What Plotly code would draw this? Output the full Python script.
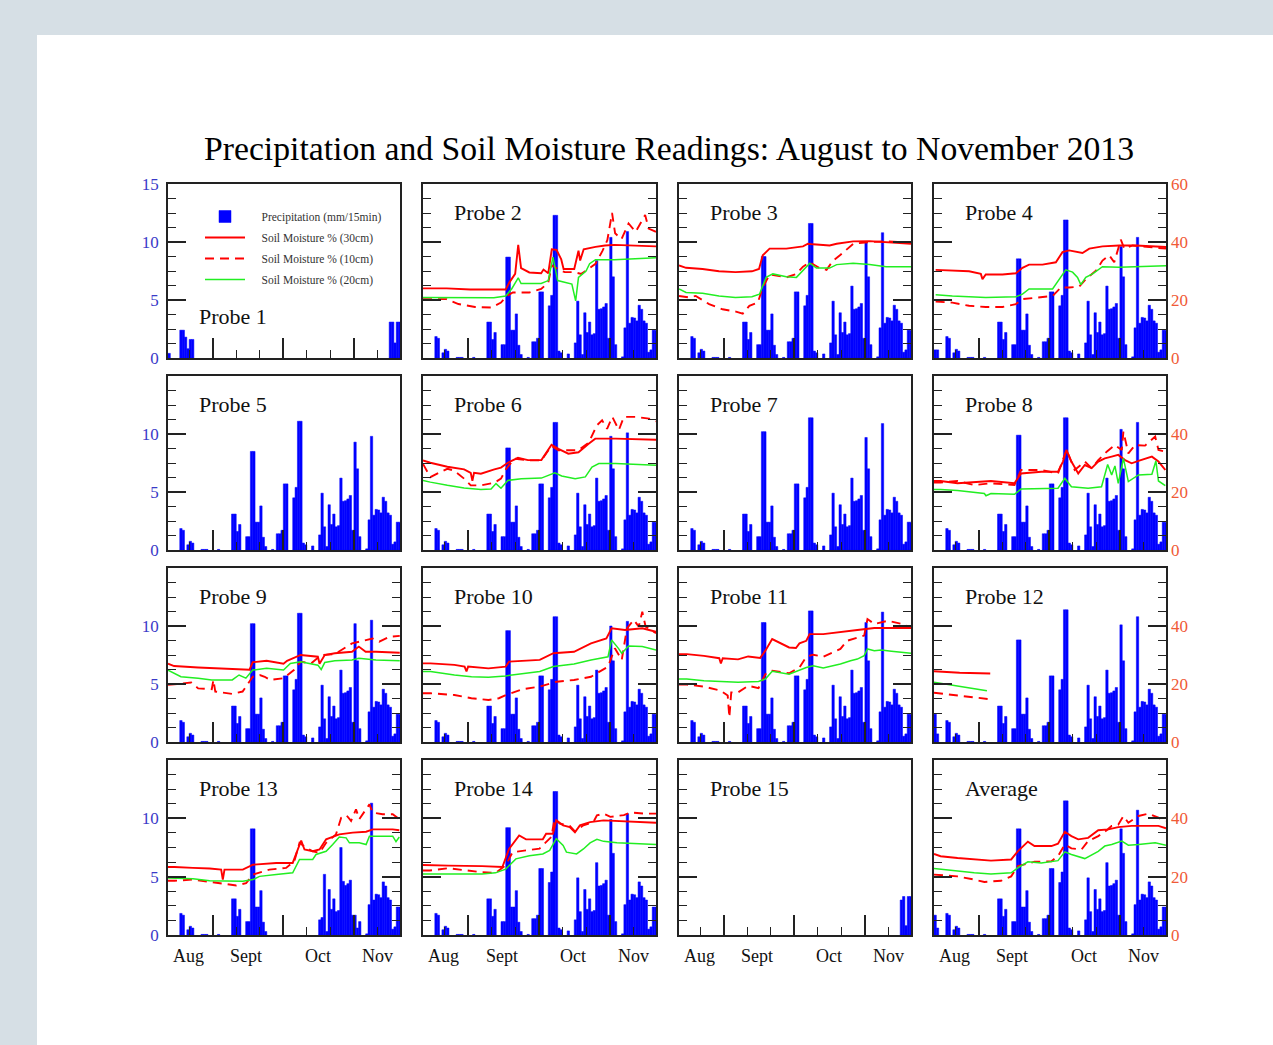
import plotly.graph_objects as go

W, H = 1273, 1045
DAY0 = 211          # day-of-year of the first plotted day (30 July 2013)
N_DAYS = 99
X_RANGE = [211, 309.6]

# ---------------- tick definitions ----------------
MONTHS = ["Aug", "Sept", "Oct", "Nov"]
MONTH_POS = [219.5, 244.3, 274.6, 300.0]
MAJOR_DAYS = [230, 260, 290]
MINOR_DAYS = [220, 240, 250, 270, 280, 300]

# ---------------- precipitation (mm / 15 min), day index 0..98 ----------------
PRECIP = [0, 0, 0, 0, 0, 1.85, 1.7, 0, 0.45, 0.75,
          0.6, 0, 0, 0, 0.05, 0.05, 0.05, 0, 0, 0,
          0, 0.05, 0, 0, 0, 0, 0, 3.1, 3.1, 1.6,
          2.2, 0, 0, 1.15, 1.15, 8.5, 8.5, 2.4, 2.4, 3.8,
          1.1, 0.3, 0, 0, 0.05, 0, 1.4, 1.4, 1.7, 5.7,
          5.7, 0, 0, 4.5, 5.4, 11.1, 11.1, 0.6, 0.45, 0,
          0, 0.35, 0, 0, 1.3, 4.9, 2.0, 0.3, 3.9, 2.2,
          3.1, 2.0, 2.1, 6.2, 4.2, 4.25, 4.4, 4.7, 1.7, 9.3,
          7.0, 1.15, 0, 0, 0.1, 2.6, 9.8, 3.0, 3.5, 3.45,
          3.2, 4.55, 4.2, 3.2, 3.0, 0.5, 0.7, 2.4, 2.4]

# per-probe readings that differ from the common record
PRECIP_EDIT = {
    "Probe 2": {35: 8.7, 36: 8.7, 55: 12.3, 56: 12.3, 73: 8.4, 79: 10.4, 86: 10.9},
    "Probe 3": {35: 8.75, 36: 8.75, 55: 11.6, 56: 11.6, 79: 10.0, 86: 10.8},
    "Probe 4": {0: 0.7, 1: 0.7, 35: 8.55, 36: 8.55, 55: 11.9, 56: 11.9, 79: 9.6, 86: 10.4},
    "Probe 6": {35: 8.8, 36: 8.8, 55: 11.0, 56: 11.0, 79: 9.8, 86: 10.1},
    "Probe 7": {35: 10.2, 36: 10.2, 55: 11.4, 56: 11.4, 79: 9.7, 86: 10.9},
    "Probe 8": {35: 9.9, 36: 9.9, 55: 11.4, 56: 11.4, 79: 10.4, 86: 11.0},
    "Probe 9": {35: 10.2, 36: 10.2, 55: 11.1, 56: 11.1, 79: 10.2, 86: 10.5},
    "Probe 10": {35: 9.6, 36: 9.6, 55: 10.8, 56: 10.8, 79: 10.0, 86: 10.4},
    "Probe 11": {35: 10.3, 36: 10.3, 55: 11.3, 56: 11.3, 79: 10.3, 86: 11.2},
    "Probe 12": {0: 2.4, 1: 0.7, 35: 8.8, 36: 8.8, 55: 11.4, 56: 11.4, 79: 10.1, 86: 10.8},
    "Probe 13": {35: 9.1, 36: 9.1, 65: 1.5, 66: 5.2, 73: 7.5, 74: 4.6, 79: 1.7, 80: 0.6, 86: 11.3},
    "Probe 14": {35: 9.2, 36: 9.2, 55: 12.3, 56: 12.3, 79: 9.9, 86: 10.4},
    "Average": {0: 1.7, 1: 0.6, 35: 9.1, 36: 9.1, 55: 11.5, 56: 11.5, 79: 9.1, 86: 10.7},
}
P13_GAP = (42, 64)     # Probe 13 gauge has no data for these day indices
P1_PRECIP = {0: 0.4, 5: 2.4, 6: 2.4, 7: 1.8, 8: 0.8, 9: 1.6, 10: 1.6,
             94: 3.1, 95: 3.1, 96: 1.3, 97: 3.1, 98: 3.1}
P15_PRECIP = {94: 3.0, 95: 3.3, 96: 0.8, 97: 3.3, 98: 3.3}

# ---------------- soil moisture (%): (day index, value) ----------------
P2_30 = [(0, 24), (10, 24), (20, 23.6), (30, 23.5), (35, 23.6), (36.5, 26), (39, 29), (40.3, 39), (41.5, 31),
         (45, 29.5), (50, 29.2), (51, 30.5), (53, 29.2), (54.5, 37.5), (56.5, 37.3), (58.5, 34), (59.5, 30.7),
         (64, 30.7), (65.8, 37), (66.5, 33.6), (68, 37.5), (73, 38.3), (77, 38.8), (81, 39), (90, 38.8), (98.6, 38.5)]
P2_10 = [(0, 20.3), (10, 20.3), (15, 18.6), (22, 17.6), (29, 17.4), (33, 19.1), (35.5, 21.4), (38, 22.6), (45, 22.6),
         (50, 23.8), (53, 26), (54.5, 32), (57, 30.7), (60, 29.6), (64, 29.6), (67, 29), (70, 30.7), (73, 32.5),
         (76, 37), (78, 40.6), (80, 50), (81.3, 43), (84, 41), (87, 46.4), (90, 43.5), (94, 49.3), (95.5, 44.6), (98.6, 43.5)]
P2_20 = [(0, 20.9), (10, 20.9), (20, 20.8), (30, 20.8), (35, 21.4), (37.5, 23.8), (40.3, 27.6), (41.5, 25.7), (50, 25.7),
         (53, 26.7), (55, 34.8), (57, 26.7), (63, 25.5), (64.6, 19.7), (65.8, 27.8), (69, 30), (70.5, 32.5), (73, 33.9),
         (81, 33.9), (98.6, 34.6)]

P3_30 = [(0, 31.9), (3, 31.1), (10, 30.7), (17, 29.9), (24, 29.6), (31, 29.9), (34, 30.7), (35.6, 35.4), (38.5, 37.7),
         (45.6, 37.7), (52.7, 38.5), (54.8, 39.4), (57, 39.2), (64, 38.8), (67, 39.4), (74, 40.2), (81, 40.3), (88, 40), (98.6, 39.4)]
P3_10 = [(0, 21.4), (4.3, 20.9), (7.1, 21.4), (12.8, 18.6), (18.5, 16.8), (24.2, 16), (27.1, 15.3), (29.9, 18), (33.5, 19.1),
         (35.6, 24.3), (38.5, 28.8), (45.6, 27.8), (49.9, 29), (52.7, 31.5), (55.6, 33), (59.8, 31), (62.7, 30.4), (65.5, 33.6),
         (68.4, 35.4), (70.5, 36.9), (74.1, 39.4), (81, 40), (88, 40.2), (98.6, 39.8)]
P3_20 = [(0, 23.8), (3, 22.6), (10, 22.3), (17, 21.4), (24, 20.9), (31, 21.1), (34.2, 22), (37, 27.8), (39.9, 29), (45.6, 28),
         (49.9, 27.8), (52.7, 30.4), (55.6, 32.7), (58.4, 31), (64, 31), (67, 32.2), (74, 32.7), (81, 32.2), (88, 31.5), (98.6, 31.5)]

P4_30 = [(0.7, 30.4), (7.8, 30.1), (14.9, 29.9), (19.9, 29), (20.6, 27.2), (22, 28.8), (29.1, 28.8), (34.8, 29.2), (37.6, 31.1),
         (40.4, 32.2), (46.1, 32.2), (51.8, 33), (54.6, 36.5), (57.4, 37.1), (63.1, 36.2), (66, 37.7), (71.6, 38.5), (78.7, 38.8),
         (85.8, 38.8), (98.6, 38.3)]
P4_10 = [(0.7, 19.5), (7.8, 19.1), (14.9, 18), (22, 17.6), (29.1, 17.6), (34.8, 18.6), (37.6, 20.3), (43.3, 20.9), (50.4, 21.4),
         (53.9, 24.3), (57.4, 24.3), (61.7, 24.6), (64.5, 27.2), (68.8, 30.1), (71.6, 33.6), (74.5, 35.4), (76.6, 33), (79.4, 40.8),
         (80.9, 37.7), (84.4, 38.8), (98.6, 37.7)]
P4_20 = [(0.7, 21.8), (7.8, 21.4), (22, 20.9), (34.8, 21.1), (37.6, 22), (40.4, 23.8), (50.4, 23.8), (53.9, 27.8), (56, 30.4),
         (58.9, 29.6), (61, 27.8), (62.4, 25.3), (64.5, 27.8), (67.4, 29), (71.6, 31.5), (78.7, 31.3), (85.8, 31.5), (98.6, 31.8)]

P6_30 = [(0, 30.9), (3.1, 30.1), (10.3, 28.7), (17.4, 27.8), (20.2, 26.6), (20.9, 23.9), (21.6, 26.6), (24.5, 26.3), (30.2, 27.8),
         (33, 28.4), (35.9, 30.1), (40.2, 31.8), (44.4, 31), (50.1, 31), (54.4, 36.3), (57.3, 34.9), (61.5, 33.2), (65.8, 33.7),
         (70.1, 36.6), (72.9, 38.4), (81.5, 38.4), (98.6, 38)]
P6_10 = [(0, 29.7), (3.1, 25.1), (7.4, 26.9), (10.3, 28), (13.1, 27.4), (17.4, 24.6), (20.2, 22.3), (24.5, 22.3), (30.2, 23.2),
         (33, 24.6), (35.2, 28), (38.7, 31.5), (44.4, 30.9), (50.1, 30.9), (54.4, 35.9), (57.3, 34.4), (61.5, 34.4), (65.8, 34.4),
         (70.1, 37), (73.6, 43), (75.8, 44.7), (77.9, 41.8), (80.1, 45.9), (82.9, 41.4), (85, 45.9), (90, 45.9), (95.7, 45.3), (98.6, 44.4)]
P6_20 = [(0, 24), (3.1, 23.4), (10.3, 22.3), (17.4, 21.4), (24.5, 20.9), (28.8, 21), (30.9, 22.9), (33, 21.3), (35.9, 24),
         (41.6, 24.6), (50.1, 24.8), (55.8, 26.6), (58.7, 25.5), (64.4, 24.6), (68.7, 25.2), (71.5, 28.6), (74.4, 29.8),
         (81.5, 29.8), (98.6, 29.2)]

P8_30 = [(0, 23.8), (2.8, 23.8), (10, 23), (17.1, 23.3), (24.2, 23.8), (34.2, 23), (37, 26.4), (45.6, 27), (52.7, 27), (54.8, 30.5),
         (56.3, 34.5), (58.4, 30.5), (61.3, 26.4), (64.1, 29.3), (67, 28.2), (69.8, 30.5), (72.6, 31.6), (75.5, 32.2), (78.3, 32.8),
         (81.2, 31), (84, 29.9), (86.9, 30.7), (92.6, 32.2), (95.4, 30.5), (98.3, 27.6)]
P8_10 = [(0, 23.3), (2.8, 23.3), (10, 23.8), (17.1, 22.4), (24.2, 23), (34.2, 22.4), (37, 27.6), (45.6, 27.6), (52.7, 26.4),
         (56.3, 34.5), (59.8, 27.6), (64.1, 30.5), (67, 28.2), (69.8, 31), (73.4, 33.9), (76.9, 36.2), (79.8, 34.5), (80.5, 40.8),
         (82.6, 33.3), (85.5, 36.2), (89.7, 36), (94, 39.1), (95.4, 34.5), (98.3, 33.9)]
P8_20 = [(0, 20.9), (2.8, 20.9), (10, 20.5), (21.4, 19.5), (22.1, 18.7), (24.2, 19.5), (34.2, 19.2), (37, 21), (52.7, 21.3),
         (55.6, 24.7), (58.4, 21.8), (65.5, 21.3), (71.2, 21.8), (73.8, 29.5), (75.5, 25.9), (76.9, 29), (78.3, 23), (80.5, 31.6),
         (82.6, 23.6), (86.9, 25.9), (92.6, 26.1), (94.3, 30.7), (95.4, 23.8), (98.3, 22.2)]

P9_30 = [(0, 27), (2.6, 26.2), (12.8, 25.7), (27.3, 25.3), (34.6, 24.9), (36, 27.5), (41.9, 28), (49.1, 27), (50.6, 28), (56.4, 30),
         (63.7, 29.4), (64.4, 27), (66.6, 30), (70.9, 30.6), (78.2, 31.1), (81.1, 32.9), (84, 31.1), (88.4, 31.1), (98.5, 30.8)]
P9_10 = [(0, 19.7), (5.5, 20.2), (9.9, 20.5), (12.8, 18.5), (18.6, 18.2), (19.3, 21.4), (20.1, 17.4), (27.3, 16.6), (31.7, 17.4),
         (36, 22.5), (39, 23.1), (41.1, 22.5), (43.3, 21.4), (49.1, 22), (53.5, 24.8), (56.4, 27.7), (60.8, 27.1), (65.1, 30),
         (70.9, 30.3), (78.2, 34), (82.6, 34.9), (86.9, 35.7), (89.8, 34.6), (94.2, 36.3), (98.5, 36.6)]
P9_20 = [(0, 24.8), (2.6, 23.7), (5.5, 22.5), (12.8, 22), (18.6, 21.4), (27.3, 21.4), (30.2, 23.1), (33.1, 22), (36, 24.8),
         (41.9, 25.4), (49.1, 24.8), (52, 27.1), (56.4, 27.7), (63.7, 26.5), (65.1, 25), (66.6, 27.4), (70.9, 28), (78.2, 28.3),
         (81.1, 28.9), (88.4, 28.3), (98.5, 28)]

P10_30 = [(0, 27.1), (3.2, 27.1), (13.3, 26.6), (17.6, 26), (18.4, 24.3), (19.1, 26), (27.7, 25.4), (35, 26), (36.4, 27.7),
          (49.4, 28.3), (55.2, 30.6), (63.9, 31.1), (71.1, 34), (77.6, 35.7), (79.8, 39.2), (85.5, 38.6), (92.8, 39.2), (98.6, 38)]
P10_10 = [(0, 16.8), (3.2, 16.8), (13.3, 16.2), (20.5, 15.1), (27.7, 14.5), (32.1, 15.1), (35, 16.2), (42.2, 18.2), (49.4, 19.1),
          (56.6, 20.8), (63.9, 21.4), (71.1, 22.5), (78.3, 26), (81.2, 32.3), (84.1, 28.3), (86.3, 39.2), (89.2, 42.1),
          (91.3, 39.8), (92.8, 44.9), (94.2, 39.8), (98.6, 37.5)]
P10_20 = [(0, 24.3), (3.2, 24.3), (13.3, 23.1), (20.5, 22.5), (27.7, 22.3), (35, 22.8), (49.4, 24.3), (55.2, 26), (63.9, 26.9),
          (71.1, 28.3), (78.3, 29.4), (79.8, 35.2), (82.7, 32.3), (84.1, 30.6), (87, 33.1), (92.8, 32.9), (98.6, 31.7)]

P11_30 = [(0, 30.3), (3.3, 30.3), (10.6, 29.7), (17.1, 28.9), (17.8, 27.1), (18.6, 28.9), (25.1, 28.5), (29.4, 29.5), (34.5, 29),
          (36.7, 31.5), (39.6, 35.5), (42.5, 34.4), (46.8, 32.6), (49.7, 32.4), (51.2, 34), (54.1, 34.9), (55.5, 37.2),
          (61.3, 37.2), (68.6, 37.8), (75.8, 38.6), (83, 39.3), (98.6, 39.3)]
P11_10 = [(0, 19.8), (3.3, 19.8), (10.6, 19.1), (17.8, 17.7), (20.7, 16), (21.4, 8.5), (22.2, 17.1), (25.1, 17.1), (29.4, 19.4),
          (33.8, 18.6), (36.7, 23.4), (39.6, 24.6), (46.8, 23.7), (51.2, 25.7), (54.1, 29.4), (57, 30.1), (61.3, 29.4),
          (68.6, 32.1), (71.4, 34.9), (75.8, 36.1), (78.7, 36.7), (80.1, 42.4), (83, 40.7), (88.8, 41.8), (94.6, 40.7), (98.6, 39.5)]
P11_20 = [(0, 21.7), (3.3, 21.7), (10.6, 21.1), (17.8, 20.9), (25.1, 20.6), (33.8, 20.9), (36.7, 21.7), (39.6, 24.4), (46.8, 23.4),
          (54.1, 25.7), (57, 26.3), (61.3, 25.5), (68.6, 26.9), (72.9, 28), (75.8, 28.6), (78.7, 29.8), (80.1, 32.1), (83, 31.5),
          (86, 31.7), (90.3, 31.3), (98.6, 30.6)]

P12_30 = [(0, 24.4), (10.9, 23.9), (23.9, 23.6)]
P12_10 = [(0, 17), (10.9, 15.9), (23.2, 14.8)]
P12_20 = [(0, 20.6), (10.9, 19.1), (22.5, 17.7)]

P13_30 = [(0, 23.3), (2.8, 23.3), (10.6, 23), (17.7, 22.8), (22.6, 22.4), (23.3, 19), (24, 22.4), (31.8, 22.4), (36.1, 24.1),
          (46, 24.7), (53, 24.7), (55.2, 29.3), (56.6, 32.4), (58, 29.3), (61.5, 28.7), (64.4, 29.3), (67.2, 32.8), (72.8, 34.5),
          (78.5, 35.1), (84.2, 35.4), (87, 36.2), (95.5, 36.2), (98.3, 35.9)]
P13_10 = [(0, 18.6), (2.8, 18.6), (10.6, 19), (17.7, 18.2), (23.3, 17.8), (29, 17), (33.2, 17.8), (36.1, 20.7), (43.1, 22.4),
          (50.2, 23), (53.7, 25.3), (55.9, 31.6), (58.7, 29.9), (61.5, 28.7), (64.4, 28.2), (67.2, 31.6), (71.4, 34.5), (73.6, 40.2),
          (75.8, 41.1), (77.8, 39.1), (79.9, 43.1), (81.3, 39.7), (85.6, 44.8), (87, 42), (91.2, 41.4), (95.5, 41.4), (98.3, 39.7)]
P13_20 = [(0, 19.5), (2.8, 19.5), (10.6, 19.3), (17.7, 18.6), (24.8, 18.4), (31.8, 18.4), (36.1, 19), (38.9, 20.1), (46, 20.7),
          (53, 21.3), (55.9, 25.9), (61.5, 25.9), (62.9, 27.6), (67.2, 28.7), (70, 31), (72.8, 33.6), (75.7, 33.3), (77.1, 31.6),
          (81.3, 31.6), (84.2, 31), (85.6, 33.9), (95.5, 33.9), (96.9, 32), (98.3, 33.6)]

P14_30 = [(0, 24), (2.9, 24), (10.7, 23.8), (25, 23.6), (33.6, 23.3), (36.4, 29.5), (40.7, 34.1), (43.6, 32.8), (50.7, 32.8),
          (52.1, 34.7), (55, 34.7), (56.4, 39.3), (59.3, 37.6), (62.1, 37), (64.3, 35.2), (66.4, 37.6), (70.7, 38.7), (76.4, 39.3),
          (82.1, 39.1), (87.9, 38.7), (98.6, 38.5)]
P14_10 = [(0, 22.1), (2.9, 22.1), (10.7, 22.9), (17.9, 22.1), (25, 21.5), (30.7, 21.3), (35, 23.9), (37.9, 28.4), (43.6, 29),
          (49.3, 29.6), (51.4, 31.3), (54.3, 33.6), (55.7, 39.9), (57.9, 38.2), (62.1, 37.4), (64.3, 35.5), (67.9, 37.6),
          (72.1, 38.7), (73.6, 41), (76.4, 41.6), (79.3, 40.5), (85, 41.1), (87.9, 42), (93.6, 41.6), (98.6, 41.6)]
P14_20 = [(0, 20.9), (4.3, 20.9), (10.7, 20.9), (25, 20.9), (30.7, 21.3), (35, 22.6), (39.3, 26.1), (45, 27.2), (50.7, 27.8),
          (53.6, 29), (56.4, 33), (59.3, 30.7), (60.7, 28.4), (65, 27.8), (67.9, 29.5), (70.7, 31.6), (73.6, 32.8), (76.4, 32.1),
          (82.1, 31.6), (98.6, 31)]

AVG_30 = [(0, 27.8), (2.8, 27), (10, 26.4), (17.1, 25.9), (24.2, 25.5), (32.8, 25.9), (35.6, 28.7), (39.9, 32), (42.7, 30.5),
          (49.9, 30.5), (52.7, 31.3), (55.6, 35.4), (58.4, 33.9), (61.3, 32.8), (65.5, 33.3), (69.8, 35.9), (74.1, 36.2),
          (78.3, 37), (84, 37.4), (95.4, 37.4), (98.6, 36.6)]
AVG_10 = [(0, 20.7), (10, 20.1), (17.1, 19), (21.4, 18.2), (28.5, 18.6), (32.8, 20.1), (35.6, 23.6), (42.7, 25.1), (49.9, 25.3),
          (52.7, 27), (55.6, 31), (58.4, 29.7), (62.7, 29.3), (65.5, 32.2), (69.8, 33.9), (73.4, 35.9), (75.5, 37.4), (78.3, 37.8),
          (80.5, 40.8), (82.6, 38.5), (86.9, 40.8), (91.2, 41.6), (95.4, 40.2), (98.6, 39.1)]
AVG_20 = [(0, 22.8), (10, 21.8), (17.1, 21.3), (24.2, 20.9), (32.8, 21.3), (35.6, 23), (39.9, 25.1), (45.6, 24.7), (52.7, 25.5),
          (55.6, 28.5), (58.4, 27.6), (64.1, 26.2), (67, 27.6), (69.8, 28.7), (72.6, 30.5), (75.5, 31), (79.8, 32.2), (82.6, 30.8),
          (86.9, 31), (94, 31.6), (98.6, 30.8)]

LINES = {
    "Probe 2": (P2_30, P2_10, P2_20), "Probe 3": (P3_30, P3_10, P3_20), "Probe 4": (P4_30, P4_10, P4_20),
    "Probe 6": (P6_30, P6_10, P6_20), "Probe 8": (P8_30, P8_10, P8_20), "Probe 9": (P9_30, P9_10, P9_20),
    "Probe 10": (P10_30, P10_10, P10_20), "Probe 11": (P11_30, P11_10, P11_20), "Probe 12": (P12_30, P12_10, P12_20),
    "Probe 13": (P13_30, P13_10, P13_20), "Probe 14": (P14_30, P14_10, P14_20), "Average": (AVG_30, AVG_10, AVG_20),
}

PANELS = ["Probe 1", "Probe 2", "Probe 3", "Probe 4",
          "Probe 5", "Probe 6", "Probe 7", "Probe 8",
          "Probe 9", "Probe 10", "Probe 11", "Probe 12",
          "Probe 13", "Probe 14", "Probe 15", "Average"]

SERIES = [("Soil Moisture % (30cm)", "#ff0000", "solid", 1.9),
          ("Soil Moisture % (10cm)", "#ff0000", "9px,6px", 1.9),
          ("Soil Moisture % (20cm)", "#22ee22", "solid", 1.5)]
BAR_NAME = "Precipitation (mm/15min)"
LEGEND_PAD = "\u00a0\u00a0\u00a0\u00a0"   # gap between legend symbol and its text

# ---------------- layout geometry (pixels) ----------------
COL_X = [(168, 400), (423, 656), (679, 911), (934, 1166)]
ROW_Y = [(184, 358), (376, 550), (568, 742), (760, 935)]

SERIF = "Liberation Serif, Times New Roman, serif"
FRAME = "#222222"
LEFT_LABEL = "#3a3ac8"
RIGHT_LABEL = "#f05a36"


def precip_for(name):
    if name == "Probe 1":
        vals = [P1_PRECIP.get(i, 0) for i in range(N_DAYS)]
    elif name == "Probe 15":
        vals = [P15_PRECIP.get(i, 0) for i in range(N_DAYS)]
    else:
        vals = list(PRECIP)
        if name == "Probe 13":
            for i in range(*P13_GAP):
                vals[i] = 0
        for i, v in PRECIP_EDIT.get(name, {}).items():
            vals[i] = v
    # dry days draw no bar at all
    return [v if v > 0 else None for v in vals]


def ax_id(letter, n):
    return letter if n == 1 else f"{letter}{n}"


fig = go.Figure()
layout = dict(
    width=W, height=H, autosize=False,
    margin=dict(l=0, r=0, t=0, b=0, pad=0),
    paper_bgcolor="#d6dfe5", plot_bgcolor="white",
    showlegend=True,
    legend=dict(x=200 / W, y=1 - 202 / H, xanchor="left", yanchor="top",
                bgcolor="rgba(0,0,0,0)", borderwidth=0,
                font=dict(family=SERIF, size=11.5, color="#333333"),
                itemwidth=40, tracegroupgap=2, traceorder="grouped"),
    shapes=[dict(type="rect", xref="paper", yref="paper", x0=37 / W, x1=1, y0=0, y1=1 - 35 / H,
                 fillcolor="white", line=dict(width=0), layer="below")],
    annotations=[dict(text="Precipitation and Soil Moisture Readings: August to November 2013",
                      xref="paper", yref="paper", x=669 / W, y=1 - 148 / H, xanchor="center", yanchor="middle",
                      showarrow=False, font=dict(family=SERIF, size=33.7, color="black"))],
)

days = [DAY0 + i for i in range(N_DAYS)]
legend_done = set()

for k, name in enumerate(PANELS, start=1):
    r, c = divmod(k - 1, 4)
    x0, x1 = COL_X[c]
    y0, y1 = ROW_Y[r]
    xd = [x0 / W, x1 / W]
    yd = [1 - y1 / H, 1 - y0 / H]
    xa, ya = ax_id("x", k), ax_id("y", k)
    ya2 = ax_id("y", 16 + k)

    fig.add_trace(go.Bar(x=days, y=precip_for(name), xaxis=xa, yaxis=ya, width=1, offset=0,
                         marker=dict(color="#0000ff", line=dict(width=0.5, color="#0000ff")),
                         name=LEGEND_PAD + BAR_NAME, legendgroup="p", legendrank=1,
                         showlegend=(k == 1), hoverinfo="skip"))
    if name in LINES:
        for j, pts in enumerate(LINES[name]):
            label, color, dash, lw = SERIES[j]
            fig.add_trace(go.Scatter(x=[DAY0 + d for d, _ in pts], y=[v for _, v in pts],
                                     xaxis=xa, yaxis=ya2, mode="lines",
                                     line=dict(color=color, width=lw, dash=dash),
                                     name=LEGEND_PAD + label, legendgroup=f"s{j}", legendrank=2 + j,
                                     showlegend=(label not in legend_done), hoverinfo="skip"))
            legend_done.add(label)

    top_row = (r == 0)
    sfx = "" if k == 1 else str(k)
    sfx2 = str(16 + k)
    layout["xaxis" + sfx] = dict(
        domain=xd, anchor=ya, range=X_RANGE, showline=True, mirror=True, linecolor=FRAME, linewidth=1.6,
        ticks="inside", tickmode="array", tickvals=MAJOR_DAYS, ticklen=20, tickwidth=1.6, tickcolor=FRAME,
        minor=dict(tickmode="array", tickvals=MINOR_DAYS, ticks="inside", ticklen=8, tickwidth=1.4, tickcolor=FRAME),
        showticklabels=False, showgrid=False, zeroline=False, fixedrange=True, automargin=False)
    layout["yaxis" + sfx] = dict(
        domain=yd, anchor=xa, range=[0, 15], showline=True, mirror=True, linecolor=FRAME, linewidth=1.6,
        ticks="inside", tickmode="array", tickvals=[0, 5, 10, 15] if top_row else [0, 5, 10],
        ticklen=18, tickwidth=1.6, tickcolor=FRAME,
        minor=dict(tickmode="linear", tick0=0, dtick=1.25, ticks="inside", ticklen=8, tickwidth=1.4, tickcolor=FRAME),
        showticklabels=(c == 0), tickfont=dict(family=SERIF, size=17, color=LEFT_LABEL), ticklabelstandoff=4,
        showgrid=False, zeroline=False, fixedrange=True, automargin=False)
    layout["yaxis" + sfx2] = dict(
        overlaying=ya, anchor=xa, side="right", range=[0, 60], showline=False,
        ticks="inside", tickmode="array", tickvals=[0, 20, 40, 60] if top_row else [0, 20, 40],
        ticklen=18, tickwidth=1.6, tickcolor=FRAME,
        minor=dict(tickmode="linear", tick0=0, dtick=5, ticks="inside", ticklen=8, tickwidth=1.4, tickcolor=FRAME),
        showticklabels=(c == 3), tickfont=dict(family=SERIF, size=17, color=RIGHT_LABEL), ticklabelstandoff=4,
        showgrid=False, zeroline=False, fixedrange=True, automargin=False)

    # month names under the bottom row, placed on the day axis
    if r == 3:
        for m, pos in zip(MONTHS, MONTH_POS):
            layout["annotations"].append(dict(
                text=m, xref=xa, yref=f"{ya} domain", x=pos, y=-(956 - 935) / (935 - 760),
                xanchor="center", yanchor="middle", showarrow=False,
                font=dict(family=SERIF, size=18, color="#111111")))

    lab_y = 0.24 if name == "Probe 1" else 0.835
    layout["annotations"].append(dict(
        text=name, xref=f"{xa} domain", yref=f"{ya} domain", x=0.125, y=lab_y,
        xanchor="left", yanchor="middle", showarrow=False,
        font=dict(family=SERIF, size=22, color="#111111")))

fig.update_layout(**layout)
fig.write_html("out.html", config={"displayModeBar": False},
               post_script="document.body.style.margin='0px';")
